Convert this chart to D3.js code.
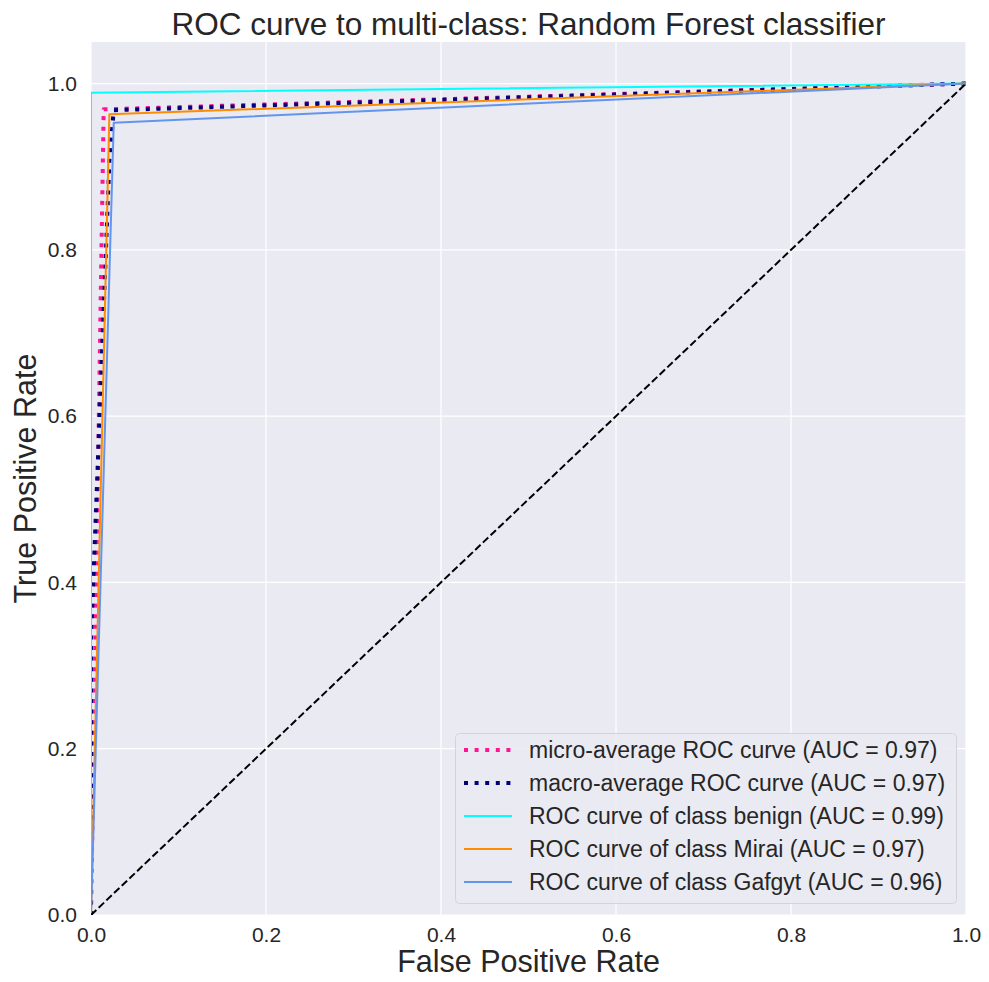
<!DOCTYPE html>
<html>
<head>
<meta charset="utf-8">
<script src="https://cdn.jsdelivr.net/npm/d3@7"></script>
<style>
  html, body { margin: 0; padding: 0; background: #ffffff; }
  svg { display: block; font-family: "Liberation Sans", Arial, sans-serif; }
</style>
</head>
<body>
<svg id="chart" width="989" height="982"></svg>
<script>
// ROC curves of a multi-class Random Forest classifier
const title = "ROC curve to multi-class: Random Forest classifier";
const xLabel = "False Positive Rate";
const yLabel = "True Positive Rate";
const tickValues = [0, 0.2, 0.4, 0.6, 0.8, 1.0];

const seriesNames = [
  "micro-average ROC curve (AUC = 0.97)",
  "macro-average ROC curve (AUC = 0.97)",
  "ROC curve of class benign (AUC = 0.99)",
  "ROC curve of class Mirai (AUC = 0.97)",
  "ROC curve of class Gafgyt (AUC = 0.96)"
];
const seriesColors = ["#ff1493", "#000080", "#00ffff", "#ff8c00", "#6495ed"];
const seriesDotted = [true, true, false, false, false];

const fprMicro = [0, 0.0145, 1];
const tprMicro = [0, 0.969, 1];
const fprMacro = [0, 0, 0.021, 0.026, 1];
const tprMacro = [0, 0.33, 0.907, 0.968, 1];
const fprBenign = [0, 0, 1];
const tprBenign = [0, 0.989, 1];
const fprMirai = [0, 0.021, 1];
const tprMirai = [0, 0.963, 1];
const fprGafgyt = [0, 0.026, 1];
const tprGafgyt = [0, 0.953, 1];

const chanceLine = [[0, 0], [1, 1]];

const seriesFpr = [fprMicro, fprMacro, fprBenign, fprMirai, fprGafgyt];
const seriesTpr = [tprMicro, tprMacro, tprBenign, tprMirai, tprGafgyt];

const margin = { left: 91, right: 989 - 966, top: 42, bottom: 982 - 915 };
const W = 989, H = 982;
const svg = d3.select("#chart");

const x = d3.scaleLinear().domain([0, 1]).range([margin.left, W - margin.right]);
const y = d3.scaleLinear().domain([0, 1.05]).range([H - margin.bottom, margin.top]);

const textColor = "#262626";

// plot background
svg.append("rect")
  .attr("x", x(0)).attr("y", y(1.05))
  .attr("width", x(1) - x(0)).attr("height", y(0) - y(1.05))
  .attr("fill", "#eaeaf2");

// grid
const grid = svg.append("g");
grid.selectAll("line.vx").data(tickValues).join("line")
  .attr("x1", d => x(d)).attr("x2", d => x(d))
  .attr("y1", y(0)).attr("y2", y(1.05))
  .attr("stroke", "#ffffff").attr("stroke-width", 1.2);
grid.selectAll("line.hy").data(tickValues).join("line")
  .attr("y1", d => y(d)).attr("y2", d => y(d))
  .attr("x1", x(0)).attr("x2", x(1))
  .attr("stroke", "#ffffff").attr("stroke-width", 1.2);

// axes (tick labels only)
const xAxis = d3.axisBottom(x).tickValues(tickValues).tickFormat(d3.format(".1f")).tickSize(0).tickPadding(12);
const yAxis = d3.axisLeft(y).tickValues(tickValues).tickFormat(d3.format(".1f")).tickSize(0).tickPadding(14);

const gx = svg.append("g").attr("transform", `translate(0,${y(0)})`).call(xAxis);
const gy = svg.append("g").attr("transform", `translate(${x(0)},0)`).call(yAxis);
[gx, gy].forEach(g => {
  g.select(".domain").remove();
  g.selectAll("text")
    .attr("font-family", "'Liberation Sans', Arial, sans-serif")
    .attr("font-size", 21).attr("fill", textColor);
});

// clip region for curves
svg.append("clipPath").attr("id", "plotClip").append("rect")
  .attr("x", x(0)).attr("y", y(1.05))
  .attr("width", x(1) - x(0)).attr("height", y(0) - y(1.05));

const line = d3.line().x(d => x(d[0])).y(d => y(d[1]));
const curves = svg.append("g").attr("clip-path", "url(#plotClip)");

seriesNames.forEach((name, i) => {
  const pts = seriesFpr[i].map((f, k) => [f, seriesTpr[i][k]]);
  curves.append("path")
    .attr("d", line(pts))
    .attr("fill", "none")
    .attr("stroke", seriesColors[i])
    .attr("stroke-width", seriesDotted[i] ? 4 : 2)
    .attr("stroke-dasharray", seriesDotted[i] ? "4,6.6" : null)
    .attr("stroke-linejoin", "round");
});

curves.append("path")
  .attr("d", line(chanceLine))
  .attr("fill", "none")
  .attr("stroke", "#000000")
  .attr("stroke-width", 2)
  .attr("stroke-dasharray", "7.4,3.2");

// title and axis labels
svg.append("text")
  .attr("x", (x(0) + x(1)) / 2).attr("y", 35)
  .attr("text-anchor", "middle")
  .attr("font-size", 31.5).attr("fill", textColor)
  .text(title);

svg.append("text")
  .attr("x", (x(0) + x(1)) / 2).attr("y", 972)
  .attr("text-anchor", "middle")
  .attr("font-size", 30.5).attr("fill", textColor)
  .text(xLabel);

svg.append("text")
  .attr("transform", `translate(36,${(y(0) + y(1.05)) / 2}) rotate(-90)`)
  .attr("text-anchor", "middle")
  .attr("font-size", 30.5).attr("fill", textColor)
  .text(yLabel);

// legend
const legend = svg.append("g");
legend.append("rect")
  .attr("x", 455.5).attr("y", 733.5)
  .attr("width", 501).attr("height", 170)
  .attr("rx", 4).attr("ry", 4)
  .attr("fill", "#eaeaf2").attr("fill-opacity", 0.9)
  .attr("stroke", "#d4d4d8").attr("stroke-width", 1);

const rowY = d3.scalePoint().domain(d3.range(seriesNames.length)).range([750, 882]);
seriesNames.forEach((name, i) => {
  const yy = rowY(i);
  legend.append("line")
    .attr("x1", 464).attr("x2", 512)
    .attr("y1", yy).attr("y2", yy)
    .attr("stroke", seriesColors[i])
    .attr("stroke-width", seriesDotted[i] ? 4 : 2)
    .attr("stroke-dasharray", seriesDotted[i] ? "4,6.6" : null);
  legend.append("text")
    .attr("x", 529).attr("y", yy)
    .attr("dy", "0.35em")
    .attr("font-size", 23).attr("fill", textColor)
    .text(name);
});
</script>
</body>
</html>
